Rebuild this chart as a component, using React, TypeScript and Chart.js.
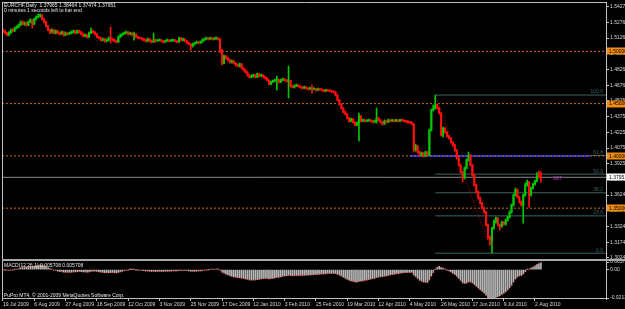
import React, { useEffect, useRef } from 'react';
import { Chart, registerables } from 'chart.js';

Chart.register(...registerables);

// ---------------- text ----------------
const symbolLine = 'EURCHF,Daily  1.37965 1.38464 1.37474 1.37951';
const timerLine = '0 minutes 1 seconds left to bar end';
const macdLine = 'MACD(12,26,1) 0.005708 0.005708';
const copyrightLine = 'PuPro MT4, \u00A9 2001-2009 MetaQuotes Software Corp.';
const setLabel = 'SET';

// ---------------- price data (daily bars, 19 Jul 2009 -> 5 Aug 2010) ----------------
const firstOpen = 1.52;
const closes = [
  1.5195, 1.5175, 1.5156, 1.5175, 1.5204, 1.5195, 1.5223, 1.5233, 1.5252, 1.5281,
  1.5262, 1.5271, 1.5252, 1.5281, 1.53, 1.5262, 1.5309, 1.5328, 1.5338, 1.5348,
  1.5309, 1.5281, 1.5242, 1.5204, 1.5185, 1.5204, 1.5175, 1.5195, 1.5175, 1.5166,
  1.5185, 1.5156, 1.5175, 1.5166, 1.5175, 1.5185, 1.5195, 1.5175, 1.5195, 1.5185,
  1.5166, 1.5147, 1.5156, 1.5137, 1.5175, 1.5195, 1.5185, 1.5166, 1.5137, 1.5128,
  1.5108, 1.5118, 1.5099, 1.5108, 1.5128, 1.5118, 1.5108, 1.5099, 1.5089, 1.5137,
  1.5156, 1.5166, 1.5175, 1.5185, 1.5166, 1.5175, 1.5156, 1.5166, 1.5137, 1.5128,
  1.5125, 1.5118, 1.5108, 1.5099, 1.5118, 1.5099, 1.5089, 1.5108, 1.5099, 1.5104,
  1.5108, 1.5099, 1.5089, 1.5099, 1.5108, 1.5099, 1.5102, 1.5108, 1.5099, 1.5089,
  1.5128, 1.5108, 1.5118, 1.5099, 1.508, 1.507, 1.5051, 1.507, 1.508, 1.5089,
  1.508, 1.5089, 1.5108, 1.5118, 1.5128, 1.5118, 1.5128, 1.5118, 1.5121, 1.5128,
  1.5118, 1.5013, 1.4888, 1.4955, 1.4936, 1.4917, 1.4898, 1.4907, 1.4888, 1.4869,
  1.486, 1.4879, 1.484, 1.4821, 1.4802, 1.4773, 1.4754, 1.4764, 1.4773, 1.4754,
  1.4783, 1.4764, 1.4773, 1.4754, 1.4745, 1.4725, 1.4687, 1.4706, 1.4716, 1.4725,
  1.4728, 1.4706, 1.4725, 1.4735, 1.4725, 1.4716, 1.472, 1.4668, 1.4658, 1.4668,
  1.4678, 1.4668, 1.4658, 1.4649, 1.4658, 1.4649, 1.4639, 1.4649, 1.4639, 1.4642,
  1.463, 1.4639, 1.4636, 1.463, 1.462, 1.463, 1.4627, 1.462, 1.4617, 1.4611,
  1.4582, 1.4534, 1.4496, 1.4458, 1.442, 1.44, 1.4362, 1.4333, 1.4352, 1.4324,
  1.4295, 1.4314, 1.4381, 1.4333, 1.4343, 1.4333, 1.4336, 1.4343, 1.4333, 1.4324,
  1.4333, 1.4362, 1.4343, 1.4324, 1.4305, 1.4333, 1.4324, 1.4343, 1.4333, 1.4343,
  1.4333, 1.4343, 1.4333, 1.4343, 1.434, 1.4333, 1.433, 1.4324, 1.4321, 1.4305,
  1.4056, 1.4094, 1.4037, 1.4008, 1.4027, 1.3998, 1.4037, 1.4008, 1.4247, 1.4439,
  1.4458, 1.4486, 1.4458, 1.441, 1.4199, 1.4266, 1.4228, 1.419, 1.417, 1.4132,
  1.4104, 1.4056, 1.3979, 1.3912, 1.3845, 1.3788, 1.3883, 1.396, 1.4008, 1.3912,
  1.3816, 1.3721, 1.3654, 1.3596, 1.3548, 1.35, 1.3462, 1.3338, 1.3223, 1.3194,
  1.3309, 1.3366, 1.3405, 1.3338, 1.3328, 1.3366, 1.3347, 1.3385, 1.3414, 1.3462,
  1.3529, 1.3625, 1.3673, 1.3606, 1.3558, 1.3529, 1.3625, 1.3721, 1.375, 1.3625,
  1.3692, 1.373, 1.3759, 1.3807, 1.37965, 1.37951,
];
const highs = [
  1.5214, 1.5204, 1.5185, 1.519, 1.5214, 1.5218, 1.5233, 1.5245, 1.5262, 1.529,
  1.5292, 1.5281, 1.528, 1.5292, 1.5312, 1.5305, 1.5318, 1.5338, 1.5357, 1.5357,
  1.5352, 1.5318, 1.529, 1.525, 1.5214, 1.5214, 1.521, 1.5204, 1.52, 1.5185,
  1.5195, 1.519, 1.5185, 1.518, 1.5185, 1.5195, 1.5204, 1.52, 1.5204, 1.5204,
  1.519, 1.5175, 1.5166, 1.516, 1.5185, 1.5223, 1.5204, 1.519, 1.517, 1.5145,
  1.5132, 1.5128, 1.5125, 1.5118, 1.5137, 1.5233, 1.5128, 1.5118, 1.5108, 1.5147,
  1.5166, 1.5175, 1.5185, 1.5195, 1.519, 1.5185, 1.518, 1.5185, 1.517, 1.5147,
  1.5137, 1.5132, 1.5125, 1.5118, 1.5128, 1.5122, 1.5108, 1.5175, 1.5118, 1.5113,
  1.5118, 1.5113, 1.5104, 1.5108, 1.5118, 1.5113, 1.5111, 1.5118, 1.5113, 1.5104,
  1.5137, 1.5132, 1.5128, 1.5122, 1.5104, 1.5089, 1.5075, 1.508, 1.5089, 1.5099,
  1.5094, 1.5099, 1.5118, 1.5128, 1.5137, 1.5132, 1.5137, 1.5132, 1.513, 1.5137,
  1.5132, 1.5122, 1.502, 1.4965, 1.496, 1.4945, 1.4926, 1.4917, 1.4912, 1.4893,
  1.4879, 1.4888, 1.4884, 1.4845, 1.4826, 1.4807, 1.4778, 1.4773, 1.4783, 1.4778,
  1.4792, 1.4788, 1.4783, 1.4778, 1.4764, 1.475, 1.473, 1.4716, 1.4725, 1.4735,
  1.4764, 1.4735, 1.4735, 1.4745, 1.474, 1.473, 1.486, 1.4725, 1.4678, 1.4678,
  1.4687, 1.4682, 1.4673, 1.4663, 1.4668, 1.4663, 1.4654, 1.4658, 1.4678, 1.4651,
  1.4647, 1.4649, 1.4645, 1.464, 1.4635, 1.4639, 1.4636, 1.4632, 1.4626, 1.4622,
  1.4616, 1.4587, 1.454, 1.4501, 1.4463, 1.443, 1.4405, 1.4367, 1.4362, 1.4357,
  1.4328, 1.4324, 1.441, 1.4386, 1.4352, 1.4348, 1.4345, 1.4352, 1.4348, 1.4338,
  1.4343, 1.4458, 1.4367, 1.4348, 1.4328, 1.4343, 1.4338, 1.4352, 1.4348, 1.4352,
  1.4348, 1.4352, 1.4348, 1.4352, 1.435, 1.4345, 1.434, 1.4335, 1.433, 1.4326,
  1.431, 1.4113, 1.4099, 1.4046, 1.4037, 1.4032, 1.4046, 1.4042, 1.4257, 1.4448,
  1.4487, 1.4582, 1.4496, 1.4463, 1.4415, 1.4276, 1.4271, 1.4233, 1.4199, 1.4175,
  1.4137, 1.4109, 1.4061, 1.3984, 1.3917, 1.385, 1.3893, 1.397, 1.4037, 1.4013,
  1.3921, 1.3826, 1.373, 1.3663, 1.3606, 1.3558, 1.351, 1.3472, 1.3347, 1.3233,
  1.3318, 1.3385, 1.3414, 1.341, 1.3347, 1.3376, 1.3376, 1.3395, 1.3424, 1.3472,
  1.3539, 1.3635, 1.3692, 1.3683, 1.3615, 1.3568, 1.3635, 1.374, 1.3769, 1.3755,
  1.3702, 1.374, 1.3769, 1.384, 1.3855, 1.38464,
];
const lows = [
  1.518, 1.5166, 1.5147, 1.515, 1.517, 1.5185, 1.519, 1.5214, 1.5225, 1.5245,
  1.5252, 1.525, 1.5242, 1.5245, 1.5275, 1.5223, 1.5255, 1.53, 1.532, 1.5328,
  1.53, 1.5271, 1.5233, 1.5195, 1.517, 1.5175, 1.5166, 1.5166, 1.5166, 1.5156,
  1.516, 1.5147, 1.515, 1.5156, 1.516, 1.5166, 1.5175, 1.5166, 1.517, 1.5175,
  1.5156, 1.5137, 1.514, 1.5128, 1.513, 1.517, 1.5175, 1.5156, 1.5128, 1.5118,
  1.5099, 1.5099, 1.5089, 1.5089, 1.5099, 1.508, 1.5099, 1.5089, 1.508, 1.5085,
  1.513, 1.5147, 1.516, 1.517, 1.5156, 1.516, 1.5147, 1.5108, 1.5128, 1.5118,
  1.5118, 1.5108, 1.5099, 1.5089, 1.5094, 1.5089, 1.508, 1.5085, 1.5089, 1.5094,
  1.5099, 1.5089, 1.508, 1.5085, 1.5094, 1.5089, 1.5092, 1.5097, 1.5089, 1.508,
  1.5085, 1.5099, 1.5099, 1.5089, 1.507, 1.5061, 1.5013, 1.5041, 1.5061, 1.5075,
  1.507, 1.5075, 1.5085, 1.5104, 1.5113, 1.5108, 1.5113, 1.5108, 1.511, 1.5115,
  1.5108, 1.4985, 1.4869, 1.4879, 1.4926, 1.4907, 1.4888, 1.4888, 1.4879, 1.486,
  1.485, 1.485, 1.4831, 1.4812, 1.4792, 1.4764, 1.4745, 1.4745, 1.4754, 1.4745,
  1.475, 1.4754, 1.4759, 1.4745, 1.4735, 1.4716, 1.4678, 1.4682, 1.4701, 1.4711,
  1.463, 1.4697, 1.4701, 1.472, 1.4716, 1.4706, 1.4554, 1.4658, 1.4649, 1.4649,
  1.4663, 1.4658, 1.4649, 1.4639, 1.4644, 1.4639, 1.463, 1.4634, 1.4601, 1.4632,
  1.462, 1.4625, 1.4627, 1.462, 1.4611, 1.4615, 1.4618, 1.4611, 1.4608, 1.4601,
  1.4573, 1.4525, 1.4487, 1.4448, 1.441, 1.4391, 1.4352, 1.4324, 1.4328, 1.4314,
  1.4286, 1.429, 1.4142, 1.4324, 1.4328, 1.4324, 1.4327, 1.4331, 1.4324, 1.4314,
  1.4319, 1.4314, 1.4333, 1.4314, 1.4295, 1.43, 1.4314, 1.4319, 1.4324, 1.4328,
  1.4324, 1.4328, 1.4324, 1.4328, 1.4331, 1.4324, 1.4321, 1.4314, 1.4311, 1.4295,
  1.4037, 1.4046, 1.4027, 1.3998, 1.3998, 1.3989, 1.3993, 1.3998, 1.4003, 1.4238,
  1.4429, 1.4448, 1.4448, 1.44, 1.419, 1.418, 1.4218, 1.418, 1.4161, 1.4122,
  1.4094, 1.4046, 1.397, 1.3902, 1.3836, 1.375, 1.3779, 1.3874, 1.395, 1.3902,
  1.3807, 1.3711, 1.3644, 1.3587, 1.3539, 1.3491, 1.3452, 1.3328, 1.3204, 1.3147,
  1.3069, 1.3299, 1.3357, 1.3328, 1.329, 1.3318, 1.3338, 1.3338, 1.3376, 1.3405,
  1.3452, 1.352, 1.3615, 1.3596, 1.3548, 1.352, 1.3357, 1.3615, 1.3711, 1.351,
  1.3615, 1.3683, 1.3721, 1.375, 1.3788, 1.37474,
];

// ---------------- axes ----------------
const dateLabels = [
  '19 Jul 2009', '6 Aug 2009', '27 Aug 2009', '18 Sep 2009', '12 Oct 2009', '3 Nov 2009',
  '25 Nov 2009', '17 Dec 2009', '12 Jan 2010', '3 Feb 2010', '25 Feb 2010', '19 Mar 2010',
  '12 Apr 2010', '4 May 2010', '26 May 2010', '17 Jun 2010', '9 Jul 2010', '2 Aug 2010',
];
const barsPerDateLabel = 16;
const priceTicks = [
  1.5427, 1.52768, 1.51266, 1.49764, 1.48263, 1.46761, 1.45259, 1.43757, 1.42255,
  1.40753, 1.39251, 1.37749, 1.36248, 1.34746, 1.33244, 1.31742, 1.3024,
];
const macdTicks = [0.005708, 0, -0.021331];

// ---------------- objects on chart ----------------
const levelPrices = [1.5, 1.45, 1.4, 1.35];
const bidPrice = 1.37951;
const supportLine = { fromBar: 208, toBar: 300, price: 1.4 };
const fibStart = { bar: 221, price: 1.4582 };
const fibEnd = { bar: 250, price: 1.3069 };
const fibRatios = [100, 61.8, 50, 38.2, 23.6, 0];
const setMark = { bar: 281, price: 1.3779 };

// view range
const X_MIN = -0.5;
const X_MAX = 308.3;

const FONT = '"Liberation Sans", Arial, sans-serif';
const UP = '#00c800';
const DOWN = '#ff1010';
const AXIS = '#c0c0c0';
const LEVEL = '#d2691e';
const FIB = '#3f6464';

function ema(values: number[], period: number): number[] {
  const k = 2 / (period + 1);
  let e = values[0];
  return values.map((v) => (e = e + k * (v - e)));
}

const zeroPad = (s: any) => {
  s.paddingTop = 0;
  s.paddingBottom = 0;
  s.paddingLeft = 0;
  s.paddingRight = 0;
};

export default function App() {
  const ref = useRef<HTMLCanvasElement>(null);

  useEffect(() => {
    document.body.style.margin = '0';
    document.body.style.background = '#000';
    const canvas = ref.current!;
    const opens = closes.map((c, i) => (i === 0 ? firstOpen : closes[i - 1]));
    const colors = closes.map((c, i) => (c >= opens[i] ? UP : DOWN));
    const e12 = ema(closes, 12);
    const e26 = ema(closes, 26);
    const macd = closes.map((_, i) => e12[i] - e26[i]);

    const hLine = (price: number, from: number, to: number, color: string, width: number, dash: number[]) => ({
      type: 'line' as const,
      data: [
        { x: from, y: price },
        { x: to, y: price },
      ],
      borderColor: color,
      borderWidth: width,
      borderDash: dash,
      pointRadius: 0,
      yAxisID: 'y',
      order: 5,
    });

    const fibPrice = (r: number) => fibEnd.price + ((fibStart.price - fibEnd.price) * r) / 100;

    const datasets: any[] = [
      {
        type: 'bar',
        data: closes.map((c, i) => ({ x: i, y: [opens[i], c] })),
        backgroundColor: colors,
        barThickness: 1.4,
        minBarLength: 1,
        grouped: false,
        yAxisID: 'y',
        order: 0,
      },
      {
        type: 'bar',
        data: closes.map((_, i) => ({ x: i, y: [lows[i], highs[i]] })),
        backgroundColor: colors,
        barThickness: 1,
        grouped: false,
        yAxisID: 'y',
        order: 1,
      },
      ...levelPrices.map((p) => hLine(p, X_MIN, X_MAX, LEVEL, 1, [2, 2])),
      hLine(bidPrice, X_MIN, X_MAX, '#8a8a8a', 1, []),
      hLine(supportLine.price, supportLine.fromBar, supportLine.toBar, '#2a2ad8', 2, []),
      ...fibRatios.map((r) => hLine(fibPrice(r), fibStart.bar, X_MAX, FIB, 1, [])),
      {
        type: 'line',
        data: [
          { x: fibStart.bar, y: fibStart.price },
          { x: fibEnd.bar, y: fibEnd.price },
        ],
        borderColor: '#d00000',
        borderWidth: 1,
        borderDash: [1, 2],
        pointRadius: 0,
        yAxisID: 'y',
        order: 4,
      },
      {
        type: 'bar',
        data: macd.map((v, i) => ({ x: i, y: v })),
        backgroundColor: '#b8b8b8',
        barThickness: 1,
        grouped: false,
        yAxisID: 'y2',
        order: 3,
      },
      {
        type: 'line',
        data: macd.map((v, i) => ({ x: i, y: v })),
        borderColor: '#ff0000',
        borderWidth: 1,
        borderDash: [1, 2],
        pointRadius: 0,
        yAxisID: 'y2',
        order: 2,
      },
    ];

    const bgPlugin = {
      id: 'bg',
      beforeDraw(chart: any) {
        const { ctx, width, height } = chart;
        ctx.save();
        ctx.fillStyle = '#000';
        ctx.fillRect(0, 0, width, height);
        ctx.restore();
      },
    };

    const overlayPlugin = {
      id: 'overlay',
      afterDraw(chart: any) {
        const { ctx, chartArea: a, scales } = chart;
        const xs = scales.x;
        const ys = scales.y;
        const y2 = scales.y2;
        ctx.save();
        // frame
        ctx.strokeStyle = AXIS;
        ctx.lineWidth = 1;
        ctx.beginPath();
        ctx.moveTo(a.left + 0.5, a.top + 0.5);
        ctx.lineTo(a.right, a.top + 0.5);
        ctx.moveTo(a.left + 0.5, a.top);
        ctx.lineTo(a.left + 0.5, a.bottom);
        ctx.moveTo(a.left, a.bottom - 0.5);
        ctx.lineTo(a.right, a.bottom - 0.5);
        ctx.stroke();
        // pane separator
        ctx.fillStyle = '#a8a8a8';
        ctx.fillRect(a.left, ys.bottom - 1, a.right - a.left + 19, 2);

        ctx.font = `5px ${FONT}`;
        ctx.textBaseline = 'top';
        ctx.fillStyle = '#e6e6e6';
        ctx.textAlign = 'left';
        ctx.fillText(symbolLine, 4, 3);
        ctx.fillText(timerLine, 4, 8);
        ctx.fillText(macdLine, 4, y2.top + 3);
        ctx.fillText(copyrightLine, 4, y2.bottom - 6);

        // fib labels
        ctx.fillStyle = FIB;
        ctx.textAlign = 'right';
        ctx.textBaseline = 'bottom';
        fibRatios.forEach((r) => {
          const py = ys.getPixelForValue(fibPrice(r));
          ctx.fillText(r.toFixed(1), xs.getPixelForValue(306.8), py - 0.5);
        });

        // SET label
        ctx.fillStyle = '#b030b0';
        ctx.textAlign = 'left';
        ctx.textBaseline = 'middle';
        ctx.fillText(setLabel, xs.getPixelForValue(setMark.bar), ys.getPixelForValue(setMark.price));

        // price boxes on axis
        const box = (price: number, bg: string) => {
          const py = ys.getPixelForValue(price);
          ctx.fillStyle = bg;
          ctx.fillRect(a.right + 1, Math.round(py) - 3.5, 24, 7);
          ctx.fillStyle = '#000';
          ctx.textAlign = 'left';
          ctx.textBaseline = 'middle';
          ctx.fillText(price.toFixed(5), a.right + 3, py + 0.5);
        };
        levelPrices.forEach((p) => box(p, '#f08c10'));
        box(bidPrice, '#ffffff');
        ctx.restore();
      },
    };

    const tickFont = { family: FONT, size: 5 };

    const chart = new Chart(canvas, {
      type: 'bar',
      data: { datasets },
      options: {
        responsive: false,
        animation: false,
        devicePixelRatio: 1,
        events: [],
        layout: { padding: { left: 2, top: 2, right: 0, bottom: 0 } },
        plugins: {
          legend: { display: false },
          tooltip: { enabled: false },
        },
        scales: {
          x: {
            type: 'linear',
            min: X_MIN,
            max: X_MAX,
            offset: false,
            bounds: 'data',
            position: 'bottom',
            afterBuildTicks: (s: any) => {
              s.ticks = dateLabels.map((_, k) => ({ value: k * barsPerDateLabel }));
            },
            afterFit: (s: any) => {
              s.height = 10;
              zeroPad(s);
            },
            ticks: {
              callback: (v: any) => dateLabels[Math.round(Number(v) / barsPerDateLabel)],
              font: tickFont,
              color: '#d8d8d8',
              align: 'start',
              maxRotation: 0,
              minRotation: 0,
              autoSkip: false,
              padding: 1,
            },
            grid: { drawOnChartArea: false, drawTicks: true, tickLength: 2, color: AXIS, offset: false },
            border: { display: false },
          },
          y: {
            type: 'linear',
            position: 'right',
            stack: 'panes',
            stackWeight: 258,
            min: 1.30041,
            max: 1.5472,
            bounds: 'data',
            afterBuildTicks: (s: any) => {
              s.ticks = priceTicks.map((v) => ({ value: v }));
            },
            afterFit: (s: any) => {
              s.width = 19;
              zeroPad(s);
            },
            ticks: {
              callback: (v: any) => Number(v).toFixed(5),
              font: tickFont,
              color: '#d8d8d8',
              autoSkip: false,
              padding: 1,
            },
            grid: { drawOnChartArea: false, tickLength: 3, color: AXIS },
            border: { display: true, color: AXIS },
          },
          y2: {
            type: 'linear',
            position: 'right',
            stack: 'panes',
            stackWeight: 39,
            min: -0.022082,
            max: 0.007211,
            bounds: 'data',
            afterBuildTicks: (s: any) => {
              s.ticks = macdTicks.map((v) => ({ value: v }));
            },
            afterFit: (s: any) => {
              s.width = 19;
              zeroPad(s);
            },
            ticks: {
              callback: (v: any) => (Number(v) === 0 ? '0.00' : String(v)),
              font: tickFont,
              color: '#d8d8d8',
              autoSkip: false,
              padding: 1,
            },
            grid: { drawOnChartArea: false, tickLength: 3, color: AXIS },
            border: { display: true, color: AXIS },
          },
        },
      } as any,
      plugins: [bgPlugin, overlayPlugin],
    });
    return () => chart.destroy();
  }, []);

  return (
    <div style={{ width: 625, height: 309, background: '#000' }}>
      <canvas ref={ref} width={625} height={309} style={{ display: 'block' }} />
    </div>
  );
}
